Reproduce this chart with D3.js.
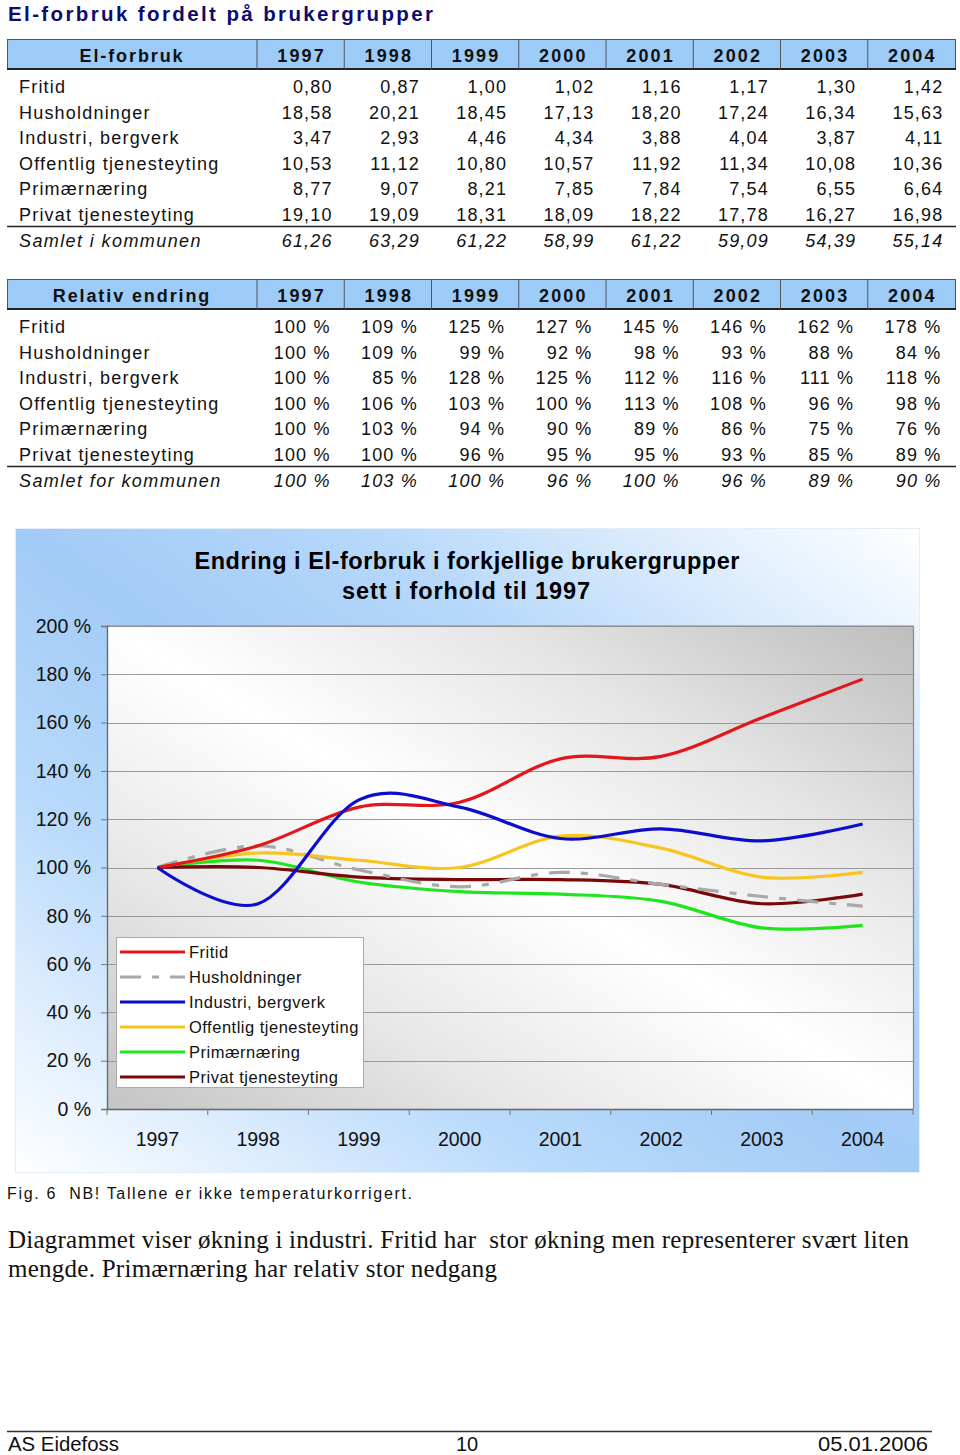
<!DOCTYPE html>
<html><head><meta charset="utf-8">
<script src="https://cdn.jsdelivr.net/npm/d3@7"></script>
<style>
html,body{margin:0;padding:0;background:#fff;}
svg{display:block;}
text{font-family:"Liberation Sans",Arial,sans-serif;}
text.serif{font-family:"Liberation Serif","Times New Roman",serif;}
</style></head>
<body>
<script>
// ---------- DATA ----------
const years = ["1997","1998","1999","2000","2001","2002","2003","2004"];
const groups = ["Fritid","Husholdninger","Industri, bergverk","Offentlig tjenesteyting","Primærnæring","Privat tjenesteyting"];
const totalLabel1 = "Samlet i kommunen";
const totalLabel2 = "Samlet for kommunen";

// El-forbruk (GWh)
const forbrukFritid = [0.80,0.87,1.00,1.02,1.16,1.17,1.30,1.42];
const forbrukHushold = [18.58,20.21,18.45,17.13,18.20,17.24,16.34,15.63];
const forbrukIndustri = [3.47,2.93,4.46,4.34,3.88,4.04,3.87,4.11];
const forbrukOffentlig = [10.53,11.12,10.80,10.57,11.92,11.34,10.08,10.36];
const forbrukPrimaer = [8.77,9.07,8.21,7.85,7.84,7.54,6.55,6.64];
const forbrukPrivat = [19.10,19.09,18.31,18.09,18.22,17.78,16.27,16.98];
const forbrukSamlet = [61.26,63.29,61.22,58.99,61.22,59.09,54.39,55.14];

// Relativ endring (%)
const relFritid = [100,109,125,127,145,146,162,178];
const relHushold = [100,109,99,92,98,93,88,84];
const relIndustri = [100,85,128,125,112,116,111,118];
const relOffentlig = [100,106,103,100,113,108,96,98];
const relPrimaer = [100,103,94,90,89,86,75,76];
const relPrivat = [100,100,96,95,95,93,85,89];
const relSamlet = [100,103,100,96,100,96,89,90];

const yTicks = [0,20,40,60,80,100,120,140,160,180,200];

const forbrukRows = [forbrukFritid,forbrukHushold,forbrukIndustri,forbrukOffentlig,forbrukPrimaer,forbrukPrivat];
const relRows = [relFritid,relHushold,relIndustri,relOffentlig,relPrimaer,relPrivat];
const seriesColors = ["#e3161c","#a8a8a8","#0d0dcc","#f7c51d","#1fe51f","#7a0808"];
const seriesDash = [null,"21,11,7,11",null,null,null,null];

// ---------- DRAW ----------
const W = 960, H = 1455;
const svg = d3.select("body").append("svg").attr("width",W).attr("height",H);
const defs = svg.append("defs");

// Page title
svg.append("text").attr("x",8).attr("y",21)
  .attr("font-size",20.5).attr("font-weight","bold").attr("fill","#0c0c70")
  .attr("textLength",425).attr("lengthAdjust","spacing")
  .text("El-forbruk fordelt på brukergrupper");

const colX = d3.scaleBand().domain(years).range([257,955]);
const fmt2 = v => d3.format(".2f")(v).replace(".",",");
const fmtPct = v => v + " %";

function drawTable(top, headLabel, rows, total, totalLabel, fmt, valInset) {
  const g = svg.append("g");
  const hTop = top, hBot = top + 29.5;
  g.append("rect").attr("x",7.5).attr("y",hTop).attr("width",948).attr("height",hBot-hTop)
    .attr("fill","#9dcbf7").attr("stroke","#555").attr("stroke-width",1);
  g.append("line").attr("x1",7).attr("x2",956).attr("y1",hBot).attr("y2",hBot)
    .attr("stroke","#222").attr("stroke-width",2.2);
  years.forEach(y => {
    g.append("line").attr("x1",colX(y)).attr("x2",colX(y)).attr("y1",hTop).attr("y2",hBot)
      .attr("stroke","#555").attr("stroke-width",1);
    g.append("text").attr("x",colX(y)+colX.bandwidth()/2+1).attr("y",hTop+22)
      .attr("text-anchor","middle").attr("font-size",18).attr("font-weight","bold")
      .attr("letter-spacing",2.2).attr("fill","#111").text(y);
  });
  g.append("text").attr("x",132).attr("y",hTop+22).attr("text-anchor","middle")
    .attr("font-size",18).attr("font-weight","bold").attr("letter-spacing",1.9).attr("fill","#111")
    .text(headLabel);
  const rowY = i => top + 53.5 + i*25.6;
  rows.forEach((vals,i) => {
    g.append("text").attr("x",19).attr("y",rowY(i)).attr("font-size",18)
      .attr("letter-spacing",1.2).attr("fill","#111").text(groups[i]);
    vals.forEach((v,j) => {
      g.append("text").attr("x",colX(years[j])+colX.bandwidth()-valInset).attr("y",rowY(i))
        .attr("text-anchor","end").attr("font-size",18).attr("letter-spacing",1.2)
        .attr("fill","#111").text(fmt(v));
    });
  });
  const lineY = rowY(5) + 5.5;
  g.append("line").attr("x1",7).attr("x2",956).attr("y1",lineY).attr("y2",lineY)
    .attr("stroke","#222").attr("stroke-width",1.3);
  g.append("text").attr("x",19).attr("y",rowY(6)).attr("font-size",18).attr("font-style","italic")
    .attr("letter-spacing",1.4).attr("fill","#111").text(totalLabel);
  total.forEach((v,j) => {
    g.append("text").attr("x",colX(years[j])+colX.bandwidth()-valInset).attr("y",rowY(6))
      .attr("text-anchor","end").attr("font-size",18).attr("font-style","italic").attr("letter-spacing",1.2)
      .attr("fill","#111").text(fmt(v));
  });
}
drawTable(39.5, "El-forbruk", forbrukRows, forbrukSamlet, totalLabel1, fmt2, 11.5);
drawTable(279.5, "Relativ endring", relRows, relSamlet, totalLabel2, fmtPct, 13.5);

// ---------- CHART ----------
const bgGrad = defs.append("linearGradient").attr("id","bgGrad")
  .attr("x1",0).attr("y1",1).attr("x2",1).attr("y2",0);
[[0,"#ffffff"],[0.3,"#b9dafb"],[0.5,"#a2cbf6"],[0.68,"#b5d7fa"],[1,"#ffffff"]]
  .forEach(s => bgGrad.append("stop").attr("offset",s[0]).attr("stop-color",s[1]));
const plotGrad = defs.append("linearGradient").attr("id","plotGrad")
  .attr("x1",0).attr("y1",1).attr("x2",1).attr("y2",0);
[[0,"#c4c4c4"],[0.25,"#e6e6e6"],[0.5,"#ffffff"],[0.75,"#e4e4e4"],[1,"#bdbdbd"]]
  .forEach(s => plotGrad.append("stop").attr("offset",s[0]).attr("stop-color",s[1]));

svg.append("rect").attr("x",15.5).attr("y",528.5).attr("width",904).attr("height",644)
  .attr("fill","url(#bgGrad)").attr("stroke","#e4eef8").attr("stroke-width",1);

const x = d3.scaleBand().domain(years).range([107,913]);
const y = d3.scaleLinear().domain([0,200]).range([1109,626]);

svg.append("rect").attr("x",107).attr("y",626).attr("width",806).attr("height",483)
  .attr("fill","url(#plotGrad)");

// gridlines
svg.append("g").selectAll("line").data(yTicks.filter(t=>t>0)).join("line")
  .attr("x1",107).attr("x2",913).attr("y1",d=>Math.round(y(d))+0.5).attr("y2",d=>Math.round(y(d))+0.5)
  .attr("stroke","#9a9a9a").attr("stroke-width",1);
// plot border right / top
svg.append("line").attr("x1",913.5).attr("x2",913.5).attr("y1",626).attr("y2",1109)
  .attr("stroke","#888").attr("stroke-width",1.2);
svg.append("line").attr("x1",107).attr("x2",913.5).attr("y1",626).attr("y2",626)
  .attr("stroke","#888").attr("stroke-width",1.2);

// y axis
const yAxis = svg.append("g").attr("transform","translate(107,0)")
  .call(d3.axisLeft(y).tickValues(yTicks).tickSize(6).tickPadding(10).tickFormat(d=>d+" %"));
yAxis.select(".domain").attr("stroke","#666").attr("stroke-width",1.3);
yAxis.selectAll(".tick line").attr("stroke","#777");
yAxis.selectAll(".tick text").attr("font-size",19.5).attr("fill","#111")
  .attr("font-family",null).attr("x",-16);

// x axis with ticks between categories
const xAxisG = svg.append("g").attr("transform","translate(0,1109)");
xAxisG.append("line").attr("x1",107).attr("x2",913).attr("y1",0.5).attr("y2",0.5)
  .attr("stroke","#666").attr("stroke-width",1.3);
xAxisG.selectAll("line.tk").data(years.concat(["end"])).join("line").attr("class","tk")
  .attr("x1",(d,i)=> i<years.length ? x(d) : 913).attr("x2",(d,i)=> i<years.length ? x(d) : 913)
  .attr("y1",0).attr("y2",6).attr("stroke","#777");
xAxisG.selectAll("text").data(years).join("text")
  .attr("x",d=>x(d)+x.bandwidth()/2).attr("y",37).attr("text-anchor","middle")
  .attr("font-size",19.5).attr("fill","#111").text(d=>d);

// chart title
svg.append("text").attr("x",467).attr("y",569).attr("text-anchor","middle")
  .attr("font-size",23.5).attr("font-weight","bold").attr("fill","#000")
  .attr("textLength",545).attr("lengthAdjust","spacing")
  .text("Endring i El-forbruk i forkjellige brukergrupper");
svg.append("text").attr("x",466).attr("y",599).attr("text-anchor","middle")
  .attr("font-size",23.5).attr("font-weight","bold").attr("fill","#000")
  .attr("textLength",248).attr("lengthAdjust","spacing")
  .text("sett i forhold til 1997");

// lines
const line = d3.line().x((d,i)=>x(years[i])+x.bandwidth()/2).y(d=>y(d))
  .curve(d3.curveCardinal.tension(0));
const plotOrder = [4,5,1,3,0,2];
plotOrder.forEach(i => {
  svg.append("path").datum(relRows[i]).attr("d",line).attr("fill","none")
    .attr("stroke",seriesColors[i]).attr("stroke-width",3.2)
    .attr("stroke-dasharray",seriesDash[i]).attr("stroke-linejoin","round");
});

// legend
const lg = svg.append("g");
lg.append("rect").attr("x",116.5).attr("y",937.5).attr("width",247).attr("height",150)
  .attr("fill","#fff").attr("stroke","#aaa").attr("stroke-width",1);
groups.forEach((gname,i) => {
  const ly = 952 + i*25;
  lg.append("line").attr("x1",120).attr("x2",185).attr("y1",ly).attr("y2",ly)
    .attr("stroke",seriesColors[i]).attr("stroke-width",3.2).attr("stroke-dasharray",seriesDash[i]);
  lg.append("text").attr("x",189).attr("y",ly+6).attr("font-size",16.5).attr("letter-spacing",0.5)
    .attr("fill","#111").text(gname);
});

// caption
svg.append("text").attr("x",7).attr("y",1199).attr("font-size",16).attr("fill","#111")
  .attr("textLength",405).attr("lengthAdjust","spacing").style("white-space","pre")
  .text("Fig. 6  NB! Tallene er ikke temperaturkorrigert.");

// paragraph
svg.append("text").attr("class","serif").attr("x",8).attr("y",1248)
  .attr("font-size",25).attr("fill","#111").style("white-space","pre")
  .attr("textLength",901).attr("lengthAdjust","spacing")
  .text("Diagrammet viser økning i industri. Fritid har  stor økning men representerer svært liten");
svg.append("text").attr("class","serif").attr("x",8).attr("y",1277)
  .attr("font-size",25).attr("fill","#111").attr("textLength",489).attr("lengthAdjust","spacing")
  .text("mengde. Primærnæring har relativ stor nedgang");

// footer
svg.append("line").attr("x1",7).attr("x2",932).attr("y1",1431.5).attr("y2",1431.5)
  .attr("stroke","#333").attr("stroke-width",1.6);
svg.append("text").attr("x",8).attr("y",1451).attr("font-size",20).attr("fill","#111")
  .attr("textLength",111).attr("lengthAdjust","spacingAndGlyphs").text("AS Eidefoss");
svg.append("text").attr("x",467).attr("y",1451).attr("text-anchor","middle").attr("font-size",20).attr("fill","#111").text("10");
svg.append("text").attr("x",928).attr("y",1451).attr("text-anchor","end").attr("font-size",20).attr("fill","#111")
  .attr("textLength",110).attr("lengthAdjust","spacingAndGlyphs").text("05.01.2006");
</script>
</body></html>
